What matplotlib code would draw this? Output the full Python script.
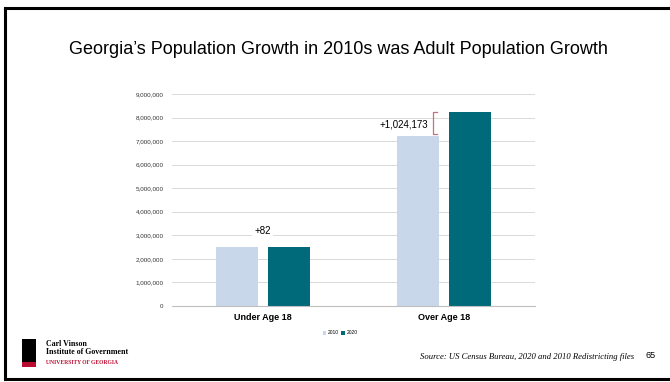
import matplotlib.pyplot as plt
from matplotlib.patches import Rectangle
from matplotlib.ticker import FuncFormatter
import numpy as np

categories = ["Under Age 18", "Over Age 18"]
years = ["2010", "2020"]
pop_2010 = [2491552, 7196101]
pop_2020 = [2491634, 8220274]
yticks = [0, 1000000, 2000000, 3000000, 4000000, 5000000, 6000000, 7000000, 8000000, 9000000]

c2010 = "#c8d8ea"
c2020 = "#00697a"

W, H = 670, 382
fig = plt.figure(figsize=(W / 100, H / 100), dpi=100)
plt.rcParams['font.family'] = ['Liberation Sans', 'DejaVu Sans']

# slide border
fig.add_artist(plt.Line2D([5 / W, 5 / W], [3 / H, 374 / H], color="black", lw=2.2, transform=fig.transFigure))
fig.add_artist(plt.Line2D([5 / W, 1.0], [374 / H, 374 / H], color="black", lw=2.2, transform=fig.transFigure))
fig.add_artist(plt.Line2D([5 / W, 1.0], [3 / H, 3 / H], color="black", lw=2.2, transform=fig.transFigure))

fig.text(338 / W, 1 - 50 / H, "Georgia\u2019s Population Growth in 2010s was Adult Population Growth",
         ha="center", va="center", fontsize=13)

ax = fig.add_axes([172 / W, 1 - 306 / H, (535 - 172) / W, (306 - 94) / H])
x = np.arange(len(categories))
bw = 0.232
off = 0.143
ax.bar(x - off, pop_2010, bw, color=c2010, label=years[0], zorder=2)
ax.bar(x + off, pop_2020, bw, color=c2020, label=years[1], zorder=2)

ax.set_xlim(-0.5, 1.5)
ax.set_ylim(0, 9000000)
ax.set_yticks(yticks)
ax.yaxis.set_major_formatter(FuncFormatter(lambda v, p: f"{int(v):,}"))
ax.tick_params(axis="y", labelsize=4.5, length=0, pad=6, colors="#333333")
ax.set_xticks(x)
ax.set_xticklabels(categories, fontsize=6.5, fontweight="bold")
ax.tick_params(axis="x", length=0, pad=5)
ax.grid(axis="y", color="#d9d9d9", lw=0.7, zorder=0)
ax.set_axisbelow(True)
for s in ["top", "right", "left"]:
    ax.spines[s].set_visible(False)
ax.spines["bottom"].set_color("#bfbfbf")
ax.spines["bottom"].set_linewidth(0.8)

# difference annotations
diff0 = pop_2020[0] - pop_2010[0]
diff1 = pop_2020[1] - pop_2010[1]
ax.text(x[0], 3200000, f"+{diff0:,}", ha="center", va="center", fontsize=7,
        bbox=dict(facecolor="white", edgecolor="none", pad=1.5), zorder=3)
bx = x[1] - off + 0.083
ax.plot([bx + 0.022, bx, bx, bx + 0.022], [pop_2010[1] + 100000, pop_2010[1] + 100000, pop_2020[1], pop_2020[1]],
        color="#c4707f", lw=0.9, zorder=3)
ax.text(bx - 0.03, (pop_2010[1] + pop_2020[1]) / 2, f"+{diff1:,}", ha="right", va="center", fontsize=7, zorder=3)

leg = fig.legend(loc="center", bbox_to_anchor=(340 / W, 1 - 333 / H), ncol=2, fontsize=3.5, frameon=False,
                 handlelength=0.7, handleheight=0.7, handletextpad=0.3, columnspacing=0.6)

# footer
fig.text(634 / W, 1 - 357 / H, "Source: US Census Bureau, 2020 and 2010 Redistricting files",
         ha="right", va="center", fontsize=6.2, style="italic", family=["Liberation Serif", "DejaVu Serif"])
fig.text(645 / W, 1 - 356 / H, "65", ha="left", va="center", fontsize=6.5)

# logo
fig.add_artist(Rectangle((22 / W, 1 - 367 / H), 14 / W, 28 / H, transform=fig.transFigure,
                         facecolor="black", edgecolor="none"))
fig.add_artist(Rectangle((22 / W, 1 - 367 / H), 14 / W, 5 / H, transform=fig.transFigure,
                         facecolor="#ba0c2f", edgecolor="none"))
fig.text(46 / W, 1 - 348 / H, "Carl Vinson\nInstitute of Government", ha="left", va="center", fontsize=5.7,
         fontweight="bold", family=["Liberation Serif", "DejaVu Serif"], linespacing=1.0)
fig.text(46 / W, 1 - 362 / H, "UNIVERSITY OF GEORGIA", ha="left", va="center", fontsize=4.1,
         color="#ba0c2f", family=["Liberation Serif", "DejaVu Serif"], fontweight="bold")

fig.savefig("out.png", dpi=100)
